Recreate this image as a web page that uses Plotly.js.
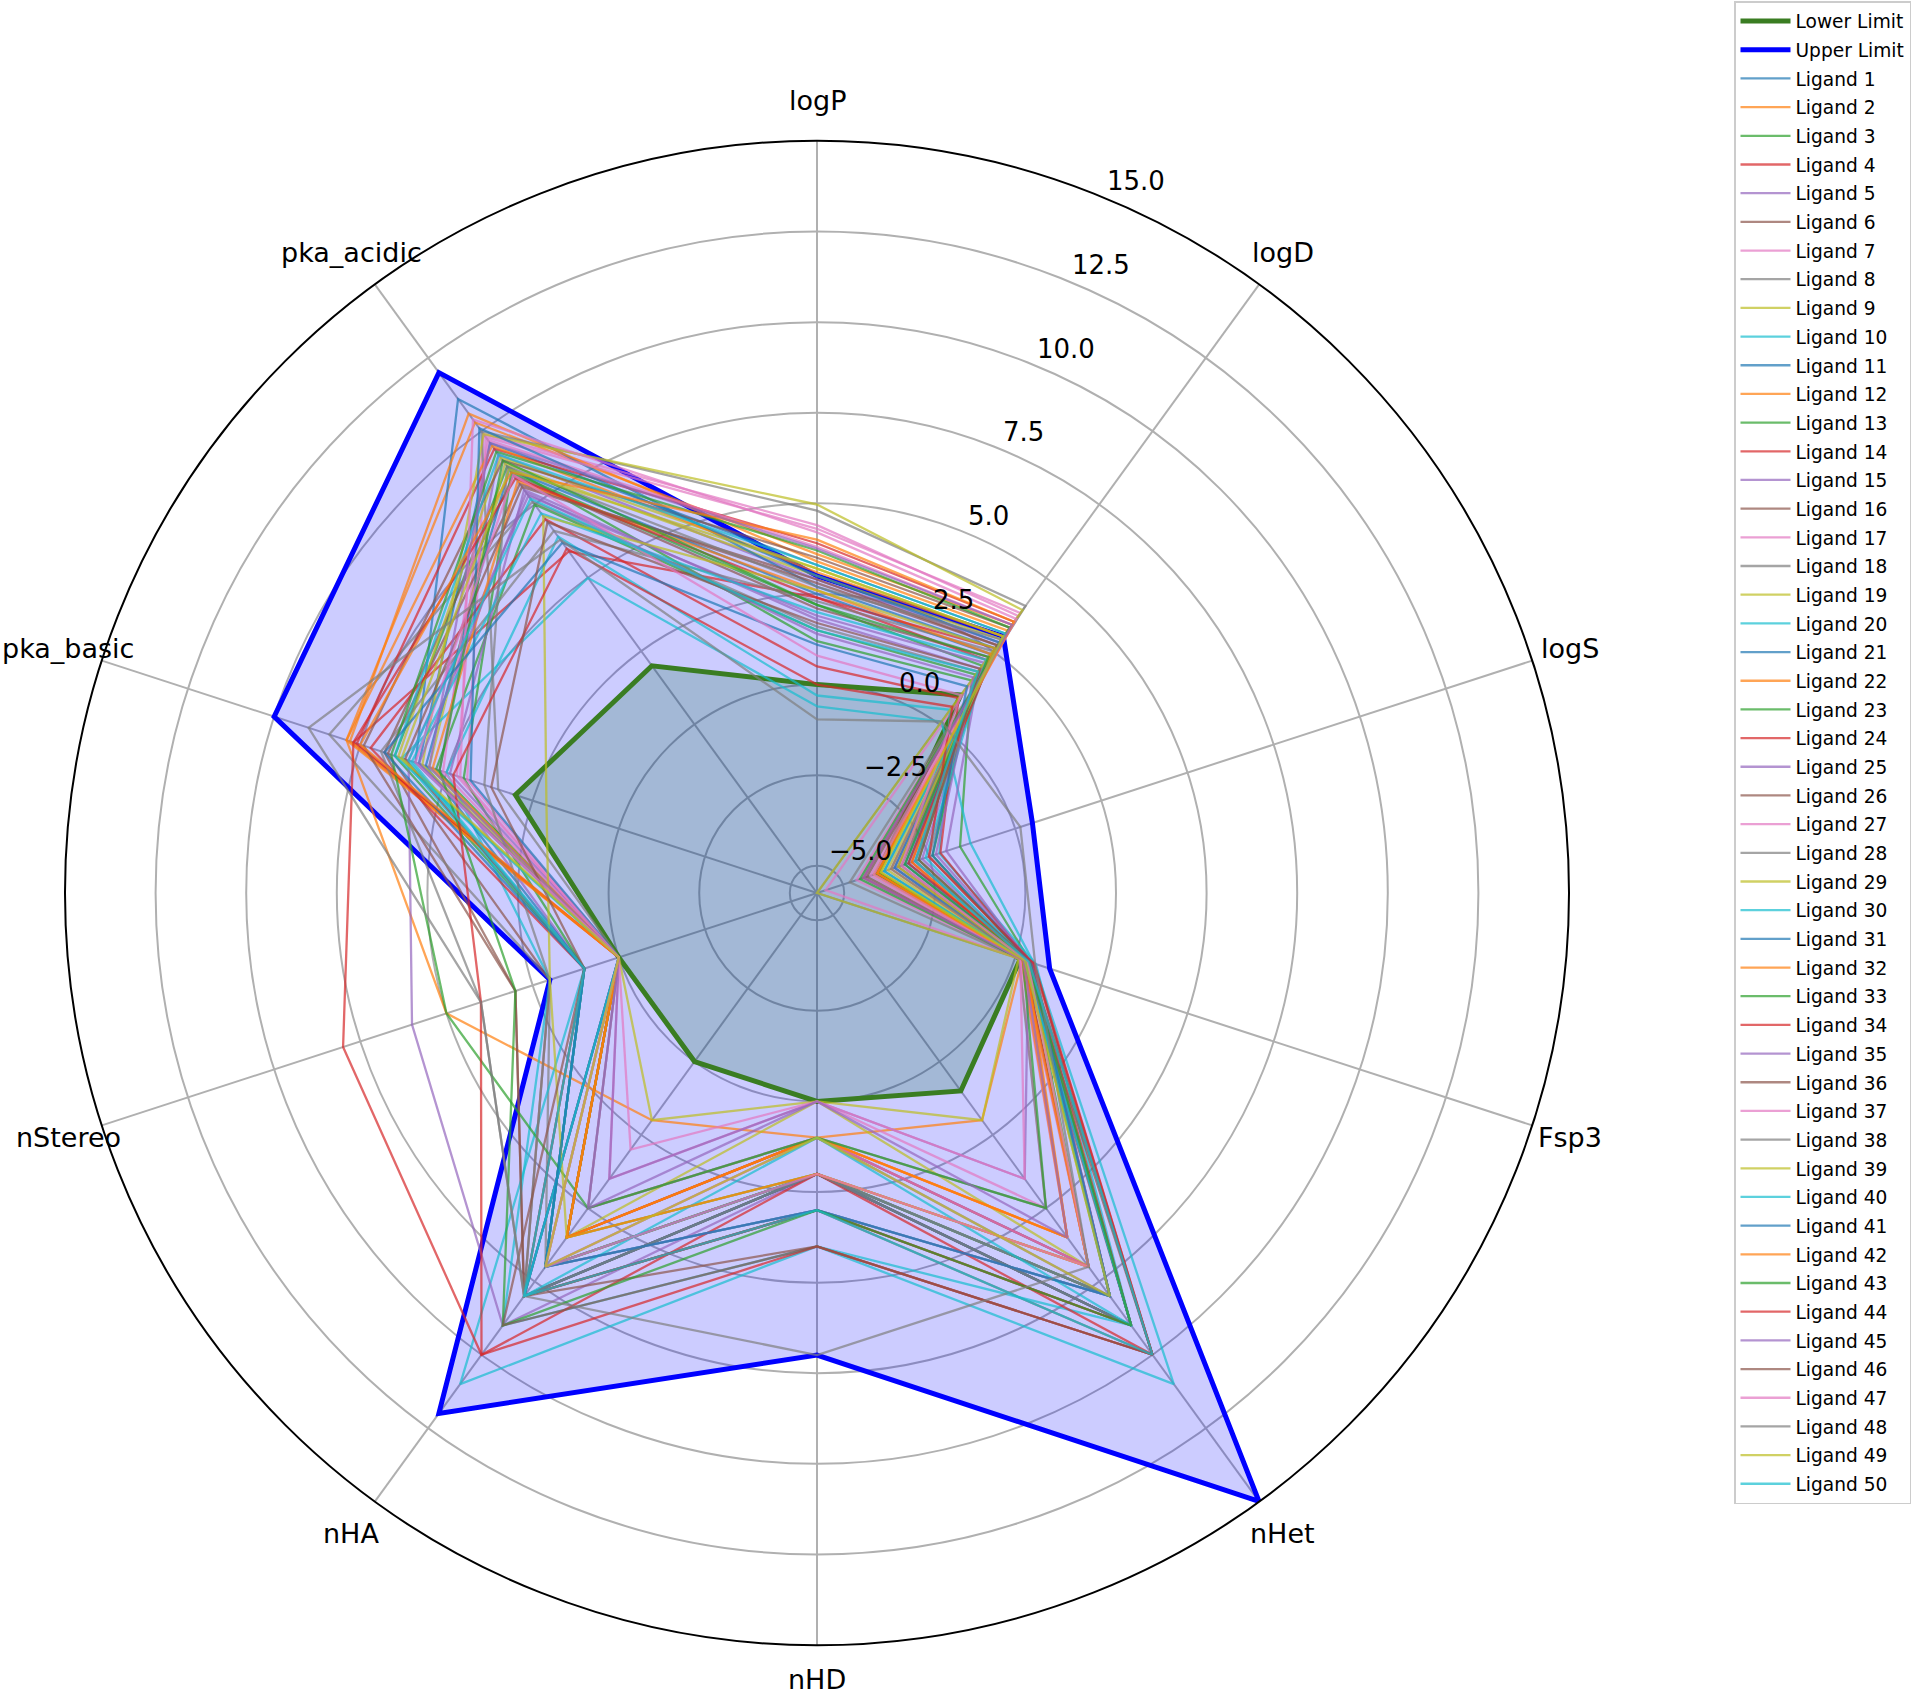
<!DOCTYPE html>
<html>
<head>
<meta charset="utf-8">
<script src="https://cdn.plot.ly/plotly-3.0.1.min.js"></script>
<style>
  html, body { margin: 0; padding: 0; background: #ffffff; }
  #chart { width: 1917px; height: 1694px; }
</style>
</head>
<body>
<div id="chart"></div>
<script>
// axes of the radar
var properties = ['logP', 'logD', 'logS', 'Fsp3', 'nHet', 'nHD', 'nHA', 'nStereo', 'pka_basic', 'pka_acidic'];

var lowerLimit = [0, 1, -4, 0.15, 1, 0, 0, 0, 3, 2];
var upperLimit = [3, 3, 0.5, 1, 15, 7, 12, 2, 10, 12];

// one value per ligand (Ligand 1 .. Ligand 50)
var logP = [3.3, 3.6, 1.2, 2.4, 2.9, 2.1, 4.4, 1.6, 3.0, -0.6,
            2.7, 3.4, 2.2, 3.9, 1.9, 2.8, 4.3, 4.8, 3.2, -0.3,
            2.5, 3.1, 1.5, 0.5, 1.8, 3.5, 3.8, 2.3, 4.97, 2.0,
            3.0, 2.6, 3.7, 2.4, 1.4, 2.9, 4.2, 2.7, 2.6, 3.3,
            1.1, 4.0, 2.2, 0.0, 3.75, 1.7, 0.8, -0.96, 3.2, 1.5];
var logD = [3.1, 3.4, 1.5, 2.2, 2.8, 2.3, 3.7, 1.8, 2.9, 0.1,
            2.6, 3.2, 2.0, 3.5, 2.1, 2.7, 3.8, 4.04, 3.0, 0.5,
            2.4, 3.0, 1.7, 0.9, 1.9, 3.3, 3.4, 2.5, 3.9, 2.2,
            2.8, 2.4, 3.3, 2.6, 1.6, 2.7, 3.6, 2.9, 2.6, 3.1,
            1.3, 3.5, 2.3, 0.6, 3.4, 1.9, 1.0, 0.1, 3.0, 1.8];
var logS = [-3.8, -4.1, -1.6, -3.0, -3.5, -2.9, -5.5, -2.5, -3.7, -1.3,
            -3.2, -4.0, -2.8, -4.4, -2.7, -3.4, -4.6, -4.8, -3.9, -2.2,
            -3.1, -3.6, -2.4, -2.17, -2.0, -4.3, -4.2, -2.9, -5.75, -2.6,
            -3.5, -3.0, -4.5, -3.1, -2.3, -3.3, -4.1, -3.6, -3.4, -3.8,
            -2.4, -4.0, -3.2, -2.5, -4.4, -2.8, -3.3, 0.15, -3.9, -2.9];
var fsp3 = [0.25, 0.20, 0.45, 0.30, 0.35, 0.40, 0.15, 0.50, 0.22, 0.55,
            0.33, 0.18, 0.42, 0.25, 0.48, 0.30, 0.12, 0.10, 0.28, 0.60,
            0.35, 0.27, 0.40, 0.45, 0.38, 0.20, 0.17, 0.44, 0.10, 0.36,
            0.30, 0.32, 0.22, 0.55, 0.50, 0.28, 0.15, 0.34, 0.35, 0.26,
            0.46, 0.21, 0.38, 0.52, 0.24, 0.42, 0.36, 0.58, 0.28, 0.40];
var nHet = [7, 2, 8, 9, 8, 10, 6, 8, 7, 11,
            9, 6, 8, 7, 8, 9, 5, 5, 8, 9,
            8, 6, 7, 9, 4, 9, 7, 8, 2, 8,
            9, 6, 5, 10, 8, 10, 4, 9, 7, 9,
            8, 7, 9, 10, 6, 10, 7, 7, 8, 10];
var nHD = [1, 1, 2, 2, 1, 3, 1, 3, 0, 4,
           2, 1, 2, 1, 2, 3, 0, 1, 2, 4,
           2, 1, 2, 3, 0, 2, 1, 2, 0, 3,
           2, 1, 1, 2, 3, 4, 0, 2, 2, 1,
           3, 2, 3, 4, 0, 4, 2, 7, 1, 3];
var nHA = [6, 2, 7, 8, 7, 8, 5, 7, 6, 11,
           8, 6, 7, 6, 9, 8, 4, 5, 7, 9,
           7, 6, 6, 8, 4, 8, 7, 8, 2, 7,
           8, 6, 5, 10, 7, 8, 3, 8, 6, 8,
           7, 6, 9, 10, 5, 9, 7, 8, 7, 8];
var nStereo = [0, 5, 1, 0, 1, 3, 0, 2, 0, 1,
               0, 0, 1, 0, 6, 2, 0, 0, 0, 2,
               1, 0, 0, 1, 0, 3, 0, 4, 0, 1,
               0, 0, 5, 8, 0, 1, 0, 2, 2, 0,
               1, 0, 3, 4, 0, 1, 0, 4, 0, 1];
var pkaBasic = [5.8, 7.9, 6.5, 7.7, 5.2, 6.8, 4.7, 8.4, 5.5, 6.3,
                5.9, 7.8, 4.5, 7.6, 6.1, 6.7, 4.4, 3.5, 6.4, 5.0,
                5.6, 7.9, 5.3, 7.2, 4.9, 7.4, 5.1, 6.9, 5.7, 6.0,
                4.3, 5.4, 6.6, 7.7, 5.8, 6.2, 4.6, 3.9, 2.1, 6.5,
                6.8, 7.5, 5.2, 4.8, 5.5, 3.7, 5.9, 9.0, 6.3, 6.1];
var pkaAcidic = [9.6, 10.3, 8.8, 5.9, 9.2, 8.5, 9.9, 7.6, 8.9, 5.0,
                 11.1, 10.6, 8.6, 9.4, 7.8, 8.2, 9.8, 10.0, 9.1, 6.4,
                 8.7, 9.5, 7.5, 7.0, 8.0, 9.0, 9.7, 6.6, 9.9, 7.2,
                 10.1, 8.3, 9.3, 8.4, 7.9, 8.1, 10.4, 8.8, 7.1, 9.2,
                 6.2, 8.6, 9.0, 6.0, 9.6, 6.9, 8.5, 6.3, 8.7, 7.7];

var radialRange = [-5.75, 15];
var radialTicks = [-5, -2.5, 0, 2.5, 5, 7.5, 10, 12.5, 15];
var radialTickText = ['\u22125.0', '\u22122.5', '0.0', '2.5', '5.0', '7.5', '10.0', '12.5', '15.0'];

var columns = [logP, logD, logS, fsp3, nHet, nHD, nHA, nStereo, pkaBasic, pkaAcidic];
var palette = ['#1f77b4', '#ff7f0e', '#2ca02c', '#d62728', '#9467bd',
               '#8c564b', '#e377c2', '#7f7f7f', '#bcbd22', '#17becf'];

function closeLoop(arr) { return arr.concat([arr[0]]); }
var theta = closeLoop(properties);

var W = 1917, H = 1694;
var domX = [65 / W, 1569 / W];
var domY = [49 / H, 1553 / H];

var data = [];

// fills first so every outline sits on top of them
data.push({
    type: 'scatterpolar', r: closeLoop(lowerLimit), theta: theta, mode: 'lines',
    fill: 'toself', fillcolor: 'rgba(0,128,0,0.2)', line: {width: 0, color: 'rgba(0,0,0,0)'},
    showlegend: false, hoverinfo: 'skip'
});
data.push({
    type: 'scatterpolar', r: closeLoop(upperLimit), theta: theta, mode: 'lines',
    fill: 'toself', fillcolor: 'rgba(0,0,255,0.2)', line: {width: 0, color: 'rgba(0,0,0,0)'},
    showlegend: false, hoverinfo: 'skip'
});
data.push({
    type: 'scatterpolar', r: closeLoop(lowerLimit), theta: theta, mode: 'lines',
    name: 'Lower Limit', legendgroup: 'lower', line: {color: '#3a7d22', width: 5}
});
data.push({
    type: 'scatterpolar', r: closeLoop(upperLimit), theta: theta, mode: 'lines',
    name: 'Upper Limit', legendgroup: 'upper', line: {color: '#0000ff', width: 5}
});

for (var i = 0; i < logP.length; i++) {
    var r = columns.map(function (col) { return col[i]; });
    data.push({
        type: 'scatterpolar', r: closeLoop(r), theta: theta, mode: 'lines',
        name: 'Ligand ' + (i + 1), legendgroup: 'lig' + i,
        opacity: 0.7, line: {color: palette[i % 10], width: 2.3}
    });
}

// geometry of the polar area, used to place the text labels
var cx = (domX[0] + domX[1]) / 2 * W;
var cy = (1 - (domY[0] + domY[1]) / 2) * H;
var outerR = (domX[1] - domX[0]) * W / 2;

// category labels centred just outside the outer ring, like matplotlib does
var annotations = properties.map(function (p, k) {
    var a = k * 2 * Math.PI / properties.length;
    var px = cx + (outerR + 40) * Math.sin(a);
    var py = cy - (outerR + 40) * Math.cos(a);
    px = Math.max(px, 68);      // keep the left label on the page
    py = Math.min(py, H - 15);  // keep the bottom label on the page
    return {
        text: p, showarrow: false, xref: 'paper', yref: 'paper',
        x: px / W, y: 1 - py / H,
        xanchor: 'center', yanchor: 'middle',
        font: {size: 27, color: 'black'}
    };
});

// radial tick labels sit at 22.5 degrees, anchored at their lower-left corner
var rlabelAngle = 22.5 * Math.PI / 180;
radialTicks.forEach(function (v, k) {
    var rp = (v - radialRange[0]) / (radialRange[1] - radialRange[0]) * outerR;
    annotations.push({
        text: radialTickText[k], showarrow: false, xref: 'paper', yref: 'paper',
        x: (cx + rp * Math.sin(rlabelAngle)) / W,
        y: 1 - (cy - rp * Math.cos(rlabelAngle)) / H,
        xanchor: 'left', yanchor: 'bottom',
        font: {size: 26, color: 'black'}
    });
});

var layout = {
    width: W,
    height: H,
    margin: {l: 0, r: 0, t: 0, b: 0, autoexpand: false},
    paper_bgcolor: 'white',
    font: {family: 'DejaVu Sans, sans-serif', color: 'black'},
    showlegend: true,
    legend: {
        xref: 'container', yref: 'container',
        x: 1734 / W, y: 1 - 1 / H, xanchor: 'left', yanchor: 'top',
        bgcolor: 'white', bordercolor: '#cccccc', borderwidth: 1.5,
        font: {size: 18.6, color: 'black'},
        itemwidth: 50, tracegroupgap: 1.5,
        maxheight: 1690
    },
    polar: {
        domain: {x: domX, y: domY},
        bgcolor: 'white',
        radialaxis: {
            range: radialRange,
            tickvals: radialTicks,
            showticklabels: false,
            showline: false,
            ticks: '',
            gridcolor: '#b0b0b0',
            gridwidth: 2,
            angle: 67.5
        },
        angularaxis: {
            type: 'category',
            categoryarray: properties,
            direction: 'clockwise',
            rotation: 90,
            showline: true,
            linecolor: 'black',
            linewidth: 2,
            gridcolor: '#b0b0b0',
            gridwidth: 2,
            showticklabels: false,
            ticks: ''
        }
    },
    annotations: annotations
};

Plotly.newPlot('chart', data, layout, {staticPlot: true});
</script>
</body>
</html>
